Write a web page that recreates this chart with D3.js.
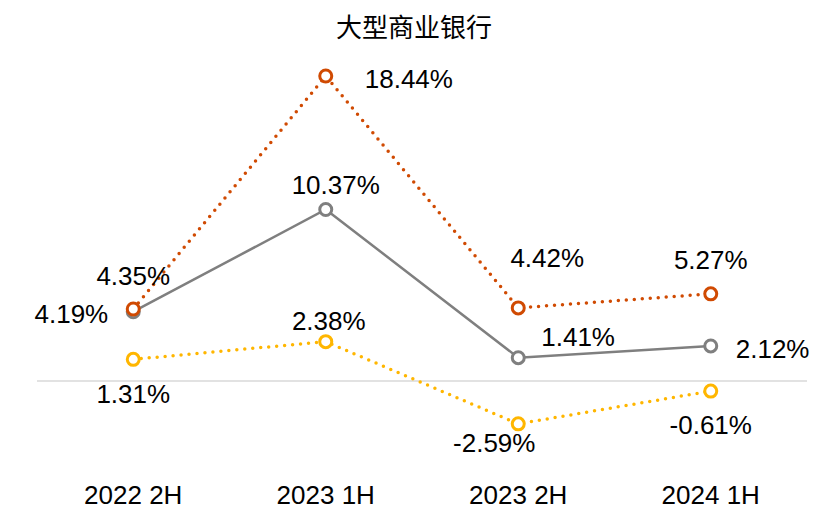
<!DOCTYPE html>
<html>
<head>
<meta charset="utf-8">
<script src="https://cdn.jsdelivr.net/npm/d3@7"></script>
<style>
  body { margin: 0; background: #fff; }
  text { font-family: "Liberation Sans", Arial, sans-serif; }
</style>
</head>
<body>
<div id="chart"></div>
<script>
var categories = ["2022 2H", "2023 1H", "2023 2H", "2024 1H"];
var orangeValues = [4.35, 18.44, 4.42, 5.27];
var grayValues = [4.19, 10.37, 1.41, 2.12];
var yellowValues = [1.31, 2.38, -2.59, -0.61];
var title = "大型商业银行";

var width = 813, height = 509;
var svg = d3.select("#chart").append("svg").attr("width", width).attr("height", height);

var xScale = d3.scaleBand().domain(categories).range([37, 807]);
var yScale = d3.scaleLinear().domain([-5, 20]).range([463.7, 50.2]);
function cx(i) { return xScale(categories[i]) + xScale.bandwidth() / 2; }

svg.append("text")
  .attr("x", 414).attr("y", 37)
  .attr("text-anchor", "middle")
  .style("font-family", "'Noto Sans CJK SC', sans-serif")
  .attr("font-size", "26px")
  .attr("fill", "#000")
  .text(title);

// zero line
svg.append("line")
  .attr("x1", 37).attr("x2", 807)
  .attr("y1", yScale(0)).attr("y2", yScale(0))
  .attr("stroke", "#d9d9d9").attr("stroke-width", 1.5);

// category axis labels
var xAxis = d3.axisBottom(xScale).tickSize(0).tickPadding(0);
var axisG = svg.append("g").attr("transform", "translate(0 " + 504 + ")").call(xAxis);
axisG.select(".domain").remove();
axisG.selectAll("text")
  .attr("dy", 0)
  .attr("font-size", "26px")
  .attr("fill", "#000")
  .style("font-family", "'Liberation Sans', Arial, sans-serif");

// label offsets [dx, dy, anchor] relative to each point
var series = [
  { values: grayValues, color: "#7f7f7f", dotted: false,
    labels: [[-25, 11, "end"], [10, -15, "middle"], [23, -12, "start"], [25, 12, "start"]] },
  { values: yellowValues, color: "#ffb600", dotted: true,
    labels: [[0, 44, "middle"], [3, -12, "middle"], [-24, 28, "middle"], [0, 43, "middle"]] },
  { values: orangeValues, color: "#d04a02", dotted: true,
    labels: [[0, -24, "middle"], [39, 12, "start"], [29, -41, "middle"], [0, -25, "middle"]] }
];

var line = d3.line()
  .x(function(d, i) { return cx(i); })
  .y(function(d) { return yScale(d); });

series.forEach(function(s) {
  var g = svg.append("g");
  g.append("path")
    .attr("d", line(s.values))
    .attr("fill", "none")
    .attr("stroke", s.color)
    .attr("stroke-width", s.dotted ? 3.5 : 2.5)
    .attr("stroke-linecap", s.dotted ? "round" : "butt")
    .attr("stroke-dasharray", s.dotted ? "0,8" : null);
  g.selectAll("circle").data(s.values).enter().append("circle")
    .attr("cx", function(d, i) { return cx(i); })
    .attr("cy", function(d) { return yScale(d); })
    .attr("r", 6)
    .attr("fill", "#fff")
    .attr("stroke", s.color)
    .attr("stroke-width", 3);
  g.selectAll("text").data(s.values).enter().append("text")
    .attr("x", function(d, i) { return cx(i) + s.labels[i][0]; })
    .attr("y", function(d, i) { return yScale(d) + s.labels[i][1]; })
    .attr("text-anchor", function(d, i) { return s.labels[i][2]; })
    .attr("font-size", "26px")
    .attr("fill", "#000")
    .text(function(d) { return d.toFixed(2) + "%"; });
});
</script>
</body>
</html>
